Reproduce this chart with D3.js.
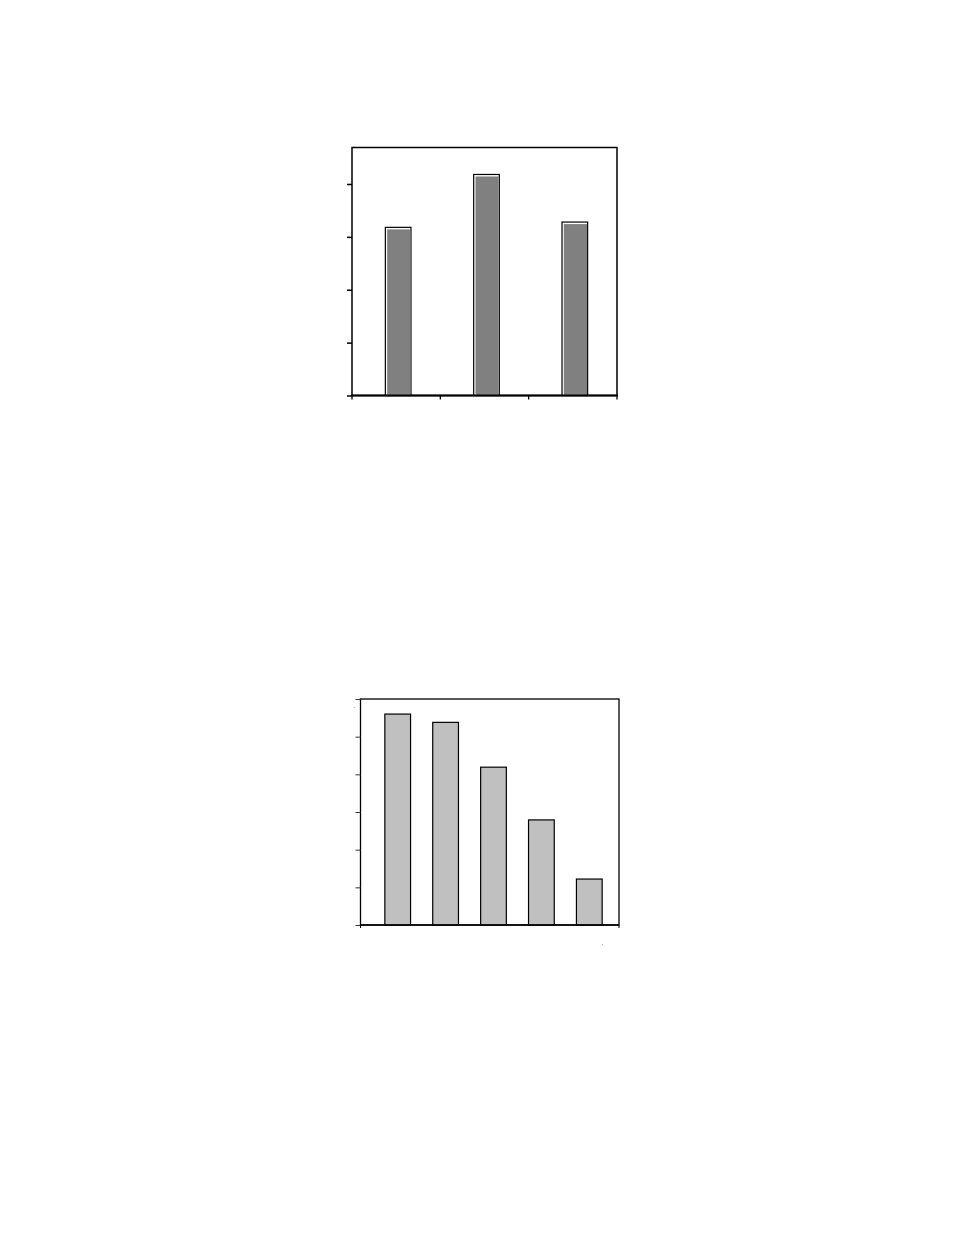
<!DOCTYPE html>
<html>
<head>
<meta charset="utf-8">
<style>
body {
    margin: 0;
    background: white;
}
svg {
    display: block;
}
</style>
</head>
<body>
<div id="chart"></div>
<script src="https://cdn.jsdelivr.net/npm/d3@7/dist/d3.min.js"></script>
<script>
// top chart: three dark bars
var cats1 = ['A', 'B', 'C'];
var vals1 = [3.18, 4.18, 3.28];
var yTicks1 = [0, 1, 2, 3, 4];

// bottom chart: five light bars
var cats2 = ['1', '2', '3', '4', '5'];
var vals2 = [5.6, 5.38, 4.19, 2.79, 1.22];
var yTicks2 = [0, 1, 2, 3, 4, 5, 6];

var svg = d3.select('#chart').append('svg')
    .attr('width', 954)
    .attr('height', 1235);

// ---- top chart ----
var f1 = {x0: 352, x1: 617, y0: 147.5, y1: 395.5};

var x1 = d3.scaleBand().domain(cats1).range([f1.x0, f1.x1])
    .paddingInner(0.71).paddingOuter(0.355);
var y1 = d3.scaleLinear().domain([0, 4.69]).range([f1.y1, f1.y0]);

var g1 = svg.append('g');

// frame
g1.append('rect')
    .attr('x', f1.x0).attr('y', f1.y0)
    .attr('width', f1.x1 - f1.x0).attr('height', f1.y1 - f1.y0)
    .attr('fill', 'none')
    .attr('stroke', 'black')
    .attr('stroke-width', 1.5);

// y ticks
g1.append('g')
    .attr('transform', 'translate(' + f1.x0 + ',0)')
    .call(d3.axisLeft(y1).tickValues(yTicks1).tickSize(5).tickFormat(''))
    .call(function (g) {
        g.select('.domain').remove();
        g.selectAll('line').attr('stroke-width', 1.5);
    });

// x ticks at band edges
var edges1 = cats1.map(function (c) { return x1(c) - x1.step() * x1.paddingInner() / 2; });
edges1.push(f1.x1);
g1.selectAll('.xt').data(edges1).enter().append('line')
    .attr('x1', function (d) { return d; })
    .attr('x2', function (d) { return d; })
    .attr('y1', f1.y1)
    .attr('y2', f1.y1 + 4)
    .attr('stroke', 'black')
    .attr('stroke-width', 1.3);

var bars1 = g1.selectAll('.bar1').data(vals1).enter().append('g');

bars1.append('rect')
    .attr('x', function (d, i) { return x1(cats1[i]) + 2; })
    .attr('y', function (d) { return y1(d); })
    .attr('width', x1.bandwidth())
    .attr('height', function (d) { return f1.y1 - y1(d); })
    .attr('fill', 'white')
    .attr('stroke', 'black')
    .attr('stroke-width', 1.2);

bars1.append('rect')
    .attr('x', function (d, i) { return x1(cats1[i]) + 3.8; })
    .attr('y', function (d) { return y1(d) + 2; })
    .attr('width', x1.bandwidth() - 2.4)
    .attr('height', function (d) { return f1.y1 - y1(d) - 2; })
    .attr('fill', '#808080');

// bottom axis drawn over bars
g1.append('line')
    .attr('x1', f1.x0 - 1).attr('x2', f1.x1 + 1)
    .attr('y1', f1.y1).attr('y2', f1.y1)
    .attr('stroke', 'black')
    .attr('stroke-width', 2);

// ---- bottom chart ----
var f2 = {x0: 360.5, x1: 619, y0: 699, y1: 925};

var x2 = d3.scaleBand().domain(cats2).range([373.75, 613.25])
    .paddingInner(0.463).paddingOuter(0.2315);
var y2 = d3.scaleLinear().domain([0, 6]).range([f2.y1, f2.y0]);

var g2 = svg.append('g');

g2.append('rect')
    .attr('x', f2.x0).attr('y', f2.y0)
    .attr('width', f2.x1 - f2.x0).attr('height', f2.y1 - f2.y0)
    .attr('fill', 'none')
    .attr('stroke', 'black')
    .attr('stroke-width', 1.3);

g2.append('g')
    .attr('transform', 'translate(' + f2.x0 + ',0)')
    .call(d3.axisLeft(y2).tickValues(yTicks2).tickSize(5).tickFormat(''))
    .call(function (g) {
        g.select('.domain').remove();
        g.selectAll('line').attr('stroke', '#333').attr('stroke-width', 1);
    });

// end ticks on the x axis
g2.selectAll('.xt').data([f2.x0, f2.x1]).enter().append('line')
    .attr('x1', function (d) { return d; })
    .attr('x2', function (d) { return d; })
    .attr('y1', f2.y1)
    .attr('y2', f2.y1 + 3)
    .attr('stroke', 'black')
    .attr('stroke-width', 1);

g2.selectAll('.bar2').data(vals2).enter().append('rect')
    .attr('x', function (d, i) { return x2(cats2[i]); })
    .attr('y', function (d) { return y2(d); })
    .attr('width', x2.bandwidth())
    .attr('height', function (d) { return f2.y1 - y2(d); })
    .attr('fill', '#c0c0c0')
    .attr('stroke', 'black')
    .attr('stroke-width', 1.2);

g2.append('line')
    .attr('x1', f2.x0).attr('x2', f2.x1)
    .attr('y1', f2.y1).attr('y2', f2.y1)
    .attr('stroke', 'black')
    .attr('stroke-width', 1.3);

// stray dots left in the source picture
g2.append('text').attr('x', 353.5).attr('y', 707.5)
    .attr('font-family', 'Liberation Sans').attr('font-size', 6).text('.');
g2.append('text').attr('x', 601.5).attr('y', 944.5)
    .attr('font-family', 'Liberation Sans').attr('font-size', 6).text('.');
</script>
</body>
</html>
